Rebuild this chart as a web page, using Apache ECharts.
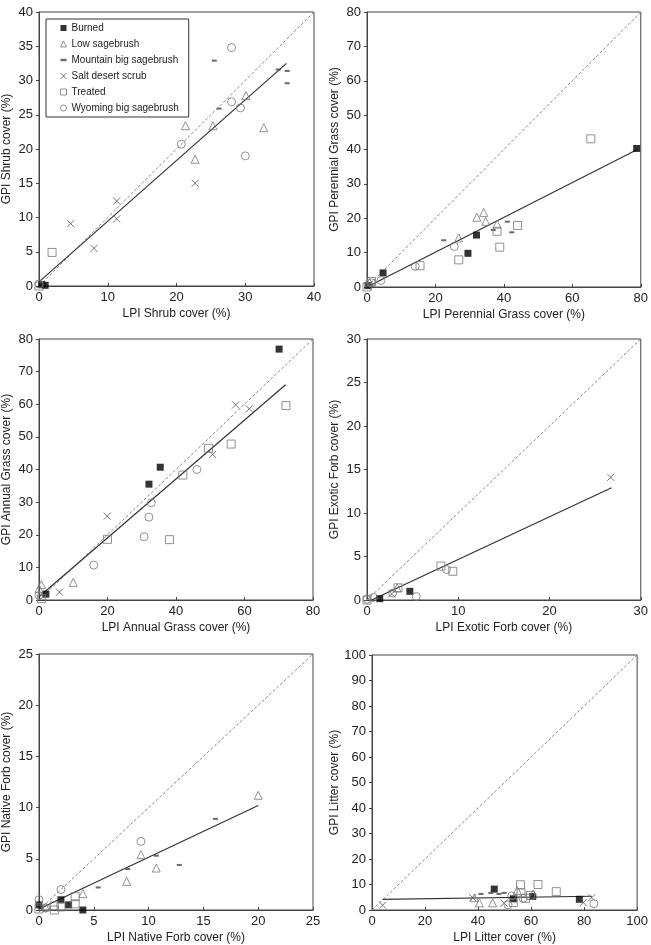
<!DOCTYPE html>
<html>
<head>
<meta charset="utf-8">
<script src="https://cdn.jsdelivr.net/npm/echarts@6/dist/echarts.min.js"></script>
<style>
  html, body { margin: 0; padding: 0; background: #fff; }
  #main { width: 651px; height: 945px; }
</style>
</head>
<body>
<div id="main"></div>
<script>
// ============================= data ===============================

const groups = ['Burned', 'Low sagebrush', 'Mountain big sagebrush', 'Salt desert scrub', 'Treated', 'Wyoming big sagebrush'];

// each panel: [LPI, GPI] pairs per group, in the order of `groups`
const shrubPts = [
    [[0.4, 0.2], [0.9, 0.1]],
    [[21.3, 23.4], [25.3, 23.4], [22.7, 18.5], [30.1, 27.8], [32.7, 23.1]],
    [[25.5, 32.9], [26.2, 25.9], [34.8, 31.6], [36.1, 31.4], [36.1, 29.6]],
    [[4.6, 9.1], [8.0, 5.5], [11.3, 12.4], [11.3, 9.8], [22.7, 15.0]],
    [[1.9, 4.9], [0, 0]],
    [[28.0, 34.8], [20.7, 20.7], [28.0, 26.9], [29.3, 26.0], [30.0, 19.0], [0, 0.3]]
];
const perennialPts = [
    [[4.7, 4.1], [32.0, 15.1], [29.5, 9.8], [78.8, 40.3], [0.3, 0.4]],
    [[32.1, 20.3], [34.1, 21.7], [34.7, 19.1], [38.0, 18.3], [26.8, 14.3], [0.7, 1.4]],
    [[22.4, 13.6], [41.0, 19.0], [42.3, 15.9], [36.9, 16.6]],
    [[0.2, 0.3], [0.6, 0.8]],
    [[65.4, 43.1], [44.0, 17.9], [38.0, 16.2], [38.8, 11.6], [26.8, 7.9], [15.5, 6.2], [1.3, 1.6], [0, 0]],
    [[25.5, 11.8], [14.1, 6.0], [4.1, 1.9], [1.3, 1.2]]
];
const annualPts = [
    [[70.1, 76.9], [35.4, 40.7], [32.1, 35.5], [2.0, 1.8]],
    [[0.7, 4.7], [10.0, 5.4], [0, 3.5]],
    [],
    [[57.4, 59.8], [61.4, 58.6], [50.7, 44.6], [19.9, 25.7], [6.0, 2.4]],
    [[72.1, 59.6], [56.1, 47.8], [49.5, 46.5], [42.0, 38.3], [38.1, 18.5], [20.0, 18.6], [0.7, 0.4]],
    [[46.1, 40.0], [32.8, 29.8], [32.1, 25.4], [30.7, 19.4], [16.0, 10.7], [0, 1.4]]
];
const exoticPts = [
    [[4.7, 1.0], [1.4, 0.15]],
    [[3.3, 1.4]],
    [],
    [[26.7, 14.1], [2.7, 0.7]],
    [[8.1, 3.9], [9.4, 3.3], [3.4, 1.4], [0, 0]],
    [[8.7, 3.5], [5.4, 0.4], [2.8, 0.8], [0.7, 0.3], [0, 0.1]]
];
const nativePts = [
    [[2.0, 1.0], [2.7, 0.5], [4.0, 0.0], [0, 0.5]],
    [[20.0, 11.2], [9.3, 5.4], [10.7, 4.1], [8.0, 2.8], [4.0, 1.6], [0.6, 0.3]],
    [[16.1, 8.9], [12.8, 4.4], [8.1, 4.0], [5.4, 2.2], [10.7, 5.3]],
    [[0.3, 0.1]],
    [[3.3, 0.6], [3.3, 1.3], [2.0, 0.3], [1.4, 0], [0, 0.1], [1.4, 0.4]],
    [[9.3, 6.7], [2.0, 2.0], [0, 1.0], [0.6, 0.2]]
];
const litterPts = [
    [[46.1, 8.2], [78.2, 4.2], [53.3, 4.4], [60.6, 5.3]],
    [[40.5, 2.8], [45.5, 2.8], [38.6, 4.8], [54.8, 7.7], [60.8, 6.3]],
    [[41.1, 6.3], [47.9, 6.3], [49.8, 6.7], [44.8, 6.7]],
    [[4.0, 1.9], [38.0, 4.8], [49.8, 2.7], [79.7, 2.9], [82.8, 4.8]],
    [[56.0, 9.9], [62.6, 10.0], [69.5, 7.2], [56.2, 6.7], [57.9, 4.6], [53.3, 2.9], [59.8, 5.7]],
    [[51.3, 2.0], [83.7, 2.5], [52.7, 5.5], [57.0, 4.6]]
];

// fitted regression lines (start, end)
const shrubFit = [[0, 0.6], [36, 32.5]];
const perennialFit = [[0, 0], [79, 40]];
const annualFit = [[0, 1], [72, 66]];
const exoticFit = [[0.5, 0], [26.8, 12.9]];
const nativeFit = [[0, 0.1], [20, 10.2]];
const litterFit = [[4, 4.2], [83, 5.4]];

const xNames = ['LPI Shrub cover (%)', 'LPI Perennial Grass cover (%)', 'LPI Annual Grass cover (%)',
    'LPI Exotic Forb cover (%)', 'LPI Native Forb cover (%)', 'LPI Litter cover (%)'];
const yNames = ['GPI Shrub cover (%)', 'GPI Perennial Grass cover (%)', 'GPI Annual Grass cover (%)',
    'GPI Exotic Forb cover (%)', 'GPI Native Forb cover (%)', 'GPI Litter cover (%)'];
const axisMax = [40, 80, 80, 30, 25, 100];
const xStep = [10, 20, 20, 10, 5, 20];
const yStep = [5, 10, 10, 5, 5, 10];

// ============================= layout ===============================

const panels = [
    { pts: shrubPts, fit: shrubFit, grid: { left: 39, top: 12, width: 275, height: 274 } },
    { pts: perennialPts, fit: perennialFit, grid: { left: 367, top: 12, width: 277, height: 275 } },
    { pts: annualPts, fit: annualFit, grid: { left: 37, top: 339, width: 276, height: 261 } },
    { pts: exoticPts, fit: exoticFit, grid: { left: 367, top: 339, width: 278, height: 261 } },
    { pts: nativePts, fit: nativeFit, grid: { left: 36, top: 654, width: 277, height: 262 } },
    { pts: litterPts, fit: litterFit, grid: { left: 372, top: 655, width: 267, height: 263 } }
];

const FONT = 'Liberation Sans';
const xPath = 'path://M0,0L10,10M10,0L0,10';
const dashPath = 'path://M0,0h10v4h-10z';

const symbolStyles = [
    { symbol: 'rect', symbolSize: 7, itemStyle: { color: '#000', borderWidth: 0 } },
    { symbol: 'triangle', symbolSize: 8, itemStyle: { color: 'rgba(0,0,0,0)', borderColor: '#777', borderWidth: 1 } },
    { symbol: 'rect', symbolSize: [5, 2], itemStyle: { color: '#444', borderWidth: 0 } },
    { symbol: xPath, symbolSize: 7, itemStyle: { color: 'rgba(0,0,0,0)', borderColor: '#555', borderWidth: 1 } },
    { symbol: 'rect', symbolSize: 8, itemStyle: { color: 'rgba(0,0,0,0)', borderColor: '#777', borderWidth: 1 } },
    { symbol: 'circle', symbolSize: 8, itemStyle: { color: 'rgba(0,0,0,0)', borderColor: '#777', borderWidth: 1 } }
];
const legendIcons = ['rect', 'triangle', dashPath, xPath, 'rect', 'circle'];

let grids = [], xAxes = [], yAxes = [], series = [];

panels.forEach(function (p, i) {
    grids.push(Object.assign({ show: true, borderColor: '#444', borderWidth: 1, backgroundColor: '#fff' }, p.grid));
    xAxes.push({
        type: 'value', gridIndex: i, min: 0, max: axisMax[i], interval: xStep[i],
        name: xNames[i], nameLocation: 'middle', nameGap: 22,
        nameTextStyle: { fontFamily: FONT, fontSize: 12, color: '#222' },
        axisLine: { show: true, onZero: false, lineStyle: { color: '#444' } },
        axisTick: { show: true, inside: true, length: 3, lineStyle: { color: '#444' } },
        axisLabel: { fontFamily: FONT, fontSize: 13, color: '#222', margin: 5 },
        splitLine: { show: false }
    });
    yAxes.push({
        type: 'value', gridIndex: i, min: 0, max: axisMax[i], interval: yStep[i],
        name: yNames[i], nameLocation: 'middle', nameGap: 26, nameRotate: 90,
        nameTextStyle: { fontFamily: FONT, fontSize: 12, color: '#222' },
        axisLine: { show: true, onZero: false, lineStyle: { color: '#444' } },
        axisTick: { show: true, inside: false, length: 3, lineStyle: { color: '#444' } },
        axisLabel: { fontFamily: FONT, fontSize: 13, color: '#222', margin: 6 },
        splitLine: { show: false }
    });
    // 1:1 line
    series.push({
        type: 'line', xAxisIndex: i, yAxisIndex: i, silent: true, symbol: 'none',
        data: [[0, 0], [axisMax[i], axisMax[i]]],
        lineStyle: { color: '#888', width: 1, type: [3, 2] }, z: 1
    });
    // regression line
    series.push({
        type: 'line', xAxisIndex: i, yAxisIndex: i, silent: true, symbol: 'none',
        data: p.fit, lineStyle: { color: '#333', width: 1.2 }, z: 2
    });
    groups.forEach(function (g, k) {
        series.push(Object.assign({
            type: 'scatter', name: g, xAxisIndex: i, yAxisIndex: i,
            data: p.pts[k], clip: false, z: 3
        }, symbolStyles[k]));
    });
});

let option = {
    animation: false,
    backgroundColor: '#fff',
    legend: {
        left: 46, top: 19, orient: 'vertical',
        backgroundColor: '#fff', borderColor: '#333', borderWidth: 1,
        padding: [3, 10, 3, 14],
        itemWidth: 6, itemHeight: 6, itemGap: 4,
        textStyle: { fontFamily: FONT, fontSize: 10, color: '#222', lineHeight: 12 },
        selectedMode: false,
        data: groups.map(function (g, k) {
            return { name: g, icon: legendIcons[k], itemStyle: symbolStyles[k].itemStyle };
        })
    },
    grid: grids,
    xAxis: xAxes,
    yAxis: yAxes,
    series: series
};

echarts.init(document.getElementById('main')).setOption(option);
</script>
</body>
</html>
